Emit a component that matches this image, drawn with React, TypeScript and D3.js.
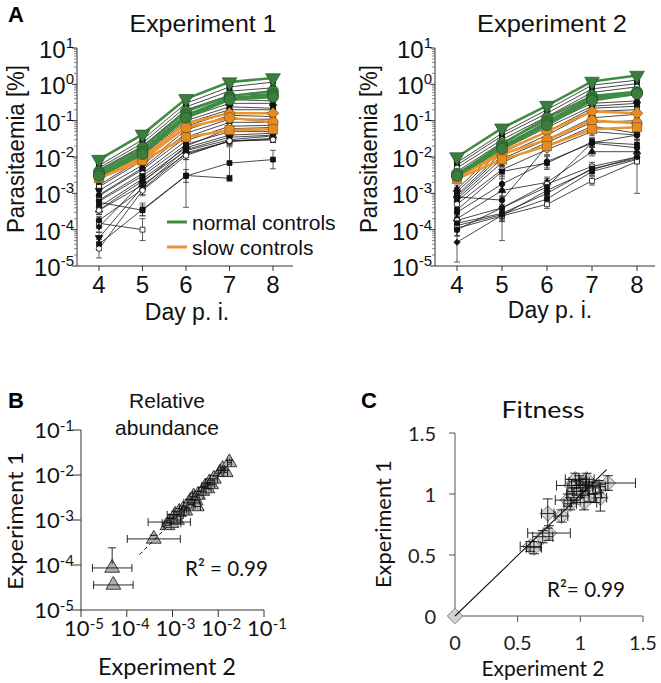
import React from "react";
import * as d3 from "d3";

// ---------------- DATA ----------------
const days = [4, 5, 6, 7, 8];
const yDecades = [-5, -4, -3, -2, -1, 0, 1];

// Experiment 1 – individual lines (parasitaemia %, day 4..8)
const exp1Black: (number | null)[][] = [
  [0.0058, 0.03, 0.3, 0.85, 1.15],
  [0.005, 0.024, 0.24, 0.65, 0.8],
  [0.0045, 0.02, 0.2, 0.5, 0.55],
  [0.0035, 0.016, 0.15, 0.38, 0.35],
  [0.003, 0.013, 0.12, 0.3, 0.3],
  [0.0025, 0.011, 0.1, 0.24, 0.22],
  [0.0017, 0.009, 0.085, 0.2, 0.2],
  [0.0015, 0.008, 0.07, 0.17, 0.16],
  [0.0012, 0.006, 0.055, 0.14, 0.13],
  [0.0009, 0.005, 0.045, 0.11, 0.11],
  [0.00085, 0.0045, 0.035, 0.09, 0.09],
  [0.00065, 0.0035, 0.028, 0.07, 0.075],
  [0.0006, 0.003, 0.022, 0.05, 0.05],
  [0.00042, 0.0025, 0.018, 0.04, 0.045],
  [0.00035, 0.0022, 0.015, 0.03, 0.038],
  [0.00034, 0.0017, 0.012, 0.027, 0.033],
  [0.00057, 0.00034, 0.003, 0.0068, 0.0085],
  [0.00004, 0.00036, 0.0031, 0.0026, null],
  [0.00015, 0.0001, null, null, null],
  [0.00018, 0.0013, 0.013, 0.027, 0.03],
  [0.00012, 0.002, 0.02, 0.06, 0.065],
  [0.00006, 0.0015, 0.016, 0.035, 0.04],
  [0.00003, 0.0012, 0.011, 0.028, 0.03],
];
const exp1BlackErr: number[][] = [
  [1.15, 1.2, 1.2, 1.1, 1.1],
  [1.2, 1.2, 1.15, 1.1, 1.1],
  [1.2, 1.15, 1.2, 1.15, 1.1],
  [1.2, 1.2, 1.2, 1.1, 1.1],
  [1.2, 1.2, 1.2, 1.1, 1.15],
  [1.25, 1.2, 1.2, 1.15, 1.1],
  [1.2, 1.25, 1.2, 1.1, 1.1],
  [1.3, 1.2, 1.2, 1.1, 1.15],
  [1.2, 1.2, 1.25, 1.15, 1.1],
  [1.3, 1.25, 1.2, 1.2, 1.1],
  [1.3, 1.3, 1.3, 1.2, 1.1],
  [1.3, 1.2, 1.3, 1.2, 1.2],
  [1.3, 1.3, 1.3, 1.2, 1.2],
  [1.3, 1.2, 1.3, 1.2, 1.2],
  [1.3, 1.3, 1.3, 1.3, 1.3],
  [1.3, 1.3, 1.4, 1.3, 1.3],
  [1.3, 1.4, 1.5, 2.8, 1.8],
  [1.5, 1.5, 7.5, 1.2, 1],
  [1.4, 2.0, 1, 1, 1],
  [1.3, 1.4, 1.3, 1.2, 1.2],
  [1.4, 1.3, 1.3, 1.2, 1.2],
  [1.4, 1.3, 1.3, 1.2, 1.2],
  [1.8, 1.4, 1.3, 1.2, 1.2],
];
const exp1Green: number[][] = [
  [0.0085, 0.042, 0.4, 1.15, 1.5],
  [0.004, 0.018, 0.18, 0.48, 0.65],
  [0.0035, 0.014, 0.14, 0.42, 0.52],
  [0.003, 0.012, 0.12, 0.38, 0.45],
];
const exp1GreenErr: number[][] = [
  [1.2, 1.2, 1.3, 1.1, 1.1],
  [1.2, 1.2, 1.3, 1.2, 1.1],
  [1.2, 1.2, 1.2, 1.1, 1.1],
  [1.2, 1.2, 1.2, 1.1, 1.1],
];
const exp1Orange: number[][] = [
  [0.003, 0.0095, 0.085, 0.16, 0.16],
  [0.0028, 0.0085, 0.065, 0.12, 0.09],
  [0.0026, 0.008, 0.035, 0.055, 0.058],
];
const exp1OrangeErr: number[][] = [
  [1.2, 1.2, 1.2, 1.15, 1.1],
  [1.2, 1.2, 1.2, 1.15, 1.1],
  [1.2, 1.2, 1.3, 1.15, 1.1],
];

// Experiment 2
const exp2Black: (number | null)[][] = [
  [0.007, 0.045, 0.2, 0.95, 1.3],
  [0.006, 0.038, 0.16, 0.75, 1.05],
  [0.005, 0.03, 0.13, 0.6, 0.85],
  [0.004, 0.025, 0.1, 0.45, 0.5],
  [0.0013, 0.02, 0.08, 0.3, 0.35],
  [0.0011, 0.016, 0.065, 0.25, 0.3],
  [0.0009, 0.013, 0.05, 0.22, 0.25],
  [0.0008, 0.011, 0.04, 0.18, 0.2],
  [0.0007, 0.009, 0.03, 0.12, 0.15],
  [0.0006, 0.007, 0.025, 0.09, 0.1],
  [0.0008, 0.00065, 0.02, 0.07, 0.045],
  [0.0005, 0.0045, 0.016, 0.05, 0.04],
  [0.00035, 0.004, 0.0068, 0.026, 0.022],
  [0.0003, 0.0018, 0.0075, 0.024, 0.018],
  [0.0002, 0.0012, 0.002, 0.014, 0.014],
  [0.00018, 0.0004, 0.0018, 0.0055, 0.01],
  [0.00015, 0.00028, 0.001, 0.0048, 0.009],
  [0.00013, 0.00026, 0.0007, 0.004, 0.0085],
  [0.00011, 0.00024, 0.0005, 0.0022, 0.0075],
  [0.0001, 0.0004, 0.0015, 0.025, 0.04],
  [0.000045, 0.00025, 0.0012, 0.0045, 0.01],
];
const exp2BlackErr: number[][] = [
  [1.2, 1.2, 1.2, 1.1, 1.1],
  [1.2, 1.2, 1.2, 1.1, 1.1],
  [1.2, 1.2, 1.2, 1.1, 1.1],
  [1.2, 1.2, 1.2, 1.15, 1.1],
  [1.3, 1.2, 1.2, 1.15, 1.1],
  [1.3, 1.2, 1.2, 1.15, 1.1],
  [1.3, 1.2, 1.3, 1.15, 1.2],
  [1.3, 1.25, 1.3, 1.2, 1.2],
  [1.3, 1.3, 1.3, 1.2, 1.2],
  [1.3, 1.3, 1.3, 1.2, 1.2],
  [1.3, 1.3, 1.3, 1.2, 1.2],
  [1.3, 1.3, 1.4, 1.3, 1.3],
  [1.4, 1.4, 1.5, 1.3, 1.3],
  [1.4, 1.4, 1.5, 1.3, 1.3],
  [1.4, 1.5, 1.4, 1.3, 1.3],
  [1.5, 8, 1.4, 1.3, 1.3],
  [1.5, 1.4, 1.4, 1.3, 1.3],
  [1.5, 1.4, 1.4, 1.3, 1.3],
  [1.6, 1.4, 1.3, 1.3, 7.5],
  [1.5, 1.5, 1.5, 1.3, 1.3],
  [3.5, 1.5, 1.5, 1.3, 1.3],
];
const exp2Green: number[][] = [
  [0.01, 0.062, 0.26, 1.2, 1.75],
  [0.0032, 0.023, 0.12, 0.48, 0.62],
  [0.0035, 0.019, 0.09, 0.4, 0.58],
  [0.003, 0.017, 0.075, 0.36, 0.55],
];
const exp2GreenErr: number[][] = [
  [1.25, 1.2, 1.3, 1.15, 1.15],
  [1.2, 1.2, 1.2, 1.15, 1.1],
  [1.2, 1.2, 1.2, 1.1, 1.1],
  [1.2, 1.2, 1.2, 1.1, 1.1],
];
const exp2Orange: number[][] = [
  [0.003, 0.014, 0.05, 0.18, 0.16],
  [0.0028, 0.012, 0.03, 0.1, 0.085],
  [0.0025, 0.0085, 0.02, 0.058, 0.066],
];
const exp2OrangeErr: number[][] = [
  [1.2, 1.2, 1.2, 1.15, 1.1],
  [1.2, 1.2, 1.2, 1.15, 1.1],
  [1.2, 1.2, 1.2, 1.15, 1.1],
];

// B – relative abundance (x: Experiment 2, y: Experiment 1)
const relX = [4.8e-5, 5.1e-5, 3.9e-4, 7.8e-4, 8.5e-4, 9.5e-4, 1.05e-3, 1.15e-3, 1.25e-3, 1.4e-3, 1.7e-3, 1.9e-3, 2.3e-3, 2.6e-3, 2.9e-3, 3.2e-3, 3.4e-3, 3.6e-3, 4.5e-3, 5.2e-3, 5.8e-3, 6.4e-3, 7e-3, 8e-3, 1.1e-2, 1.25e-2, 1.45e-2, 1.75e-2];
const relY = [8.6e-5, 3.6e-5, 3.8e-4, 7.6e-4, 9e-4, 8.5e-4, 1.1e-3, 1.3e-3, 1.0e-3, 1.5e-3, 1.7e-3, 1.6e-3, 2.4e-3, 2.2e-3, 3.3e-3, 2.7e-3, 2.0e-3, 3.6e-3, 4.4e-3, 5.5e-3, 5.0e-3, 6.8e-3, 6.2e-3, 8.2e-3, 1.15e-2, 1.35e-2, 1.15e-2, 1.9e-2];
const relXErr = [2.7, 2.7, 3.8, 1.2, 2.9, 1.6, 1.2, 1.5, 1.2, 1.3, 1.2, 1.2, 1.3, 1.2, 1.2, 1.2, 1.2, 1.3, 1.2, 1.2, 1.2, 1.2, 1.2, 1.2, 1.1, 1.1, 1.1, 1.1];
const relYErr = [2.8, 1, 1.2, 1.3, 1.2, 1.3, 1.2, 1.2, 1.3, 1.2, 1.2, 1.2, 1.2, 1.3, 1.2, 1.2, 1.2, 1.2, 1.2, 1.2, 1.2, 1.2, 1.2, 1.2, 1.1, 1.1, 1.1, 1.1];
const relFit = [[1.9e-4, 1.7e-4], [1.8e-2, 1.8e-2]];
const relTicks = [-5, -4, -3, -2, -1];

// C – fitness
const fitX = [0, 0.6, 0.63, 0.7, 0.75, 0.74, 0.85, 0.9, 0.92, 0.95, 0.97, 0.99, 1.0, 1.02, 1.05, 1.07, 1.1, 1.12, 1.15, 1.16, 1.22, 0.93, 1.03, 0.96];
const fitY = [0, 0.57, 0.56, 0.65, 0.68, 0.84, 0.82, 0.95, 0.92, 1.0, 1.05, 1.1, 1.02, 1.08, 1.12, 1.0, 1.05, 1.0, 1.06, 0.97, 1.09, 1.07, 0.93, 1.12];
const fitXErr = [0, 0.08, 0.06, 0.08, 0.17, 0.05, 0.05, 0.1, 0.05, 0.06, 0.07, 0.08, 0.06, 0.05, 0.06, 0.05, 0.06, 0.05, 0.05, 0.05, 0.22, 0.12, 0.1, 0.08];
const fitYErr = [0, 0.04, 0.05, 0.05, 0.06, 0.12, 0.05, 0.05, 0.05, 0.05, 0.06, 0.05, 0.05, 0.05, 0.05, 0.06, 0.05, 0.07, 0.05, 0.11, 0.06, 0.05, 0.06, 0.05];
const fitLine = [[0, 0], [1.21, 1.2]];
const fitTicks = [0, 0.5, 1, 1.5];

// ---------------- STYLE ----------------
const blackMarkers = ["circle", "square", "circleOpen", "diamond", "tri", "square", "circle", "squareOpen", "triDown", "diamond", "circle", "circleOpen", "square", "circle", "tri", "circleOpen", "square", "square", "squareOpen", "circle", "diamond", "triDown", "circleOpen"];
const greenMarkers = ["triDown", "circle", "circle", "circle"];
const orangeMarkers = ["diamond", "circle", "square"];
const GREEN = "#3f8c43";
const GREEN_FILL = "#3a7d3d";
const ORANGE = "#ec9530";
const ORANGE_FILL = "#e48b22";
const ARIAL = "'Liberation Sans', Arial, sans-serif";
const CAL = "Lato, 'Open Sans', sans-serif";

const symMap: Record<string, any> = {
  circle: d3.symbolCircle,
  square: d3.symbolSquare,
  diamond: d3.symbolSquare,
  tri: d3.symbolTriangle,
  triDown: d3.symbolTriangle,
};

function Marker({ shape, x, y, size, fill, stroke, sw }: any) {
  const open = shape.endsWith("Open");
  const base = shape.replace("Open", "");
  const p = d3.symbol().type(symMap[base]).size(base === "diamond" ? size * 0.8 : size)() as string;
  const rot = base === "triDown" ? " rotate(180)" : base === "diamond" ? " rotate(45)" : "";
  return (
    <path
      d={p}
      transform={`translate(${x},${y})${rot}`}
      fill={open ? "#fff" : fill}
      stroke={stroke}
      strokeWidth={sw}
    />
  );
}

function Pow({ x, y, exp, anchor, size, supSize, supDy, family }: any) {
  return (
    <text x={x} y={y} textAnchor={anchor} fontFamily={family} fontSize={size} fill="#111">
      10
      <tspan dy={supDy} fontSize={supSize}>{exp}</tspan>
    </text>
  );
}

function GrowthPanel(props: any) {
  const { x, y, ax0, ax1, black, blackErr, green, greenErr, orange, orangeErr, legend } = props;
  const line = d3
    .line<[number, number | null]>()
    .defined((d) => d[1] != null)
    .x((d) => x(d[0]))
    .y((d) => y(d[1] as number));
  const series = (vals: (number | null)[]) => days.map((d, i) => [d, vals[i]] as [number, number | null]);

  const errBars = (vals: (number | null)[], errs: number[], color: string, cap: number, key: string) =>
    vals.map((v, i) => {
      if (v == null || errs[i] <= 1) return null;
      const cx = x(days[i]);
      const lo = y(v / errs[i]);
      const hi = y(v * errs[i]);
      return (
        <g key={key + i} stroke={color} strokeWidth={0.8}>
          <line x1={cx} x2={cx} y1={lo} y2={hi} />
          <line x1={cx - cap} x2={cx + cap} y1={lo} y2={lo} />
          <line x1={cx - cap} x2={cx + cap} y1={hi} y2={hi} />
        </g>
      );
    });

  const minor: number[] = [];
  for (let k = -5; k < 1; k++) for (let m = 2; m <= 9; m++) minor.push(m * Math.pow(10, k));
  const yTop = y(10);
  const yBot = y(1e-5);

  return (
    <g>
      {/* axes */}
      <line x1={ax0} x2={ax0} y1={yTop} y2={yBot} stroke="#333" strokeWidth={1} />
      <line x1={ax0} x2={ax1} y1={yBot} y2={yBot} stroke="#333" strokeWidth={1} />
      {minor.map((v, i) => (
        <line key={"mn" + i} x1={ax0 - 3} x2={ax0} y1={y(v)} y2={y(v)} stroke="#555" strokeWidth={0.7} />
      ))}
      {yDecades.map((k) => (
        <line key={"mj" + k} x1={ax0 - 5} x2={ax0} y1={y(Math.pow(10, k))} y2={y(Math.pow(10, k))} stroke="#333" strokeWidth={1} />
      ))}
      {yDecades.map((k) => (
        <Pow key={"yl" + k} x={ax0 - 3} y={y(Math.pow(10, k)) + 10} exp={String(k)} anchor="end" size={24} supSize={15} supDy={-10} family={ARIAL} />
      ))}
      {days.map((d) => (
        <g key={"xt" + d}>
          <line x1={x(d)} x2={x(d)} y1={yBot} y2={yBot + 5} stroke="#333" />
          <text x={x(d)} y={yBot + 27} textAnchor="middle" fontFamily={ARIAL} fontSize={24} fill="#111">
            {d}
          </text>
        </g>
      ))}

      {/* black series */}
      {black.map((s: any, i: number) => (
        <path key={"bl" + i} d={line(series(s)) as string} fill="none" stroke="#1a1a1a" strokeWidth={0.8} />
      ))}
      {black.map((s: any, i: number) => errBars(s, blackErr[i], "#333", 3, "be" + i + "_"))}
      {black.map((s: any, i: number) =>
        s.map((v: number | null, j: number) =>
          v == null ? null : (
            <Marker key={"bm" + i + "_" + j} shape={blackMarkers[i % blackMarkers.length]} x={x(days[j])} y={y(v)} size={24} fill="#111" stroke="#111" sw={0.8} />
          )
        )
      )}

      {/* orange */}
      {orange.map((s: any, i: number) => errBars(s, orangeErr[i], "#b9a58c", 4, "oe" + i + "_"))}
      {orange.map((s: any, i: number) => (
        <path key={"ol" + i} d={line(series(s)) as string} fill="none" stroke={ORANGE} strokeWidth={2.6} />
      ))}
      {orange.map((s: any, i: number) =>
        s.map((v: number, j: number) => (
          <Marker key={"om" + i + "_" + j} shape={orangeMarkers[i]} x={x(days[j])} y={y(v)} size={85} fill={ORANGE_FILL} stroke="#7a4a12" sw={0.6} />
        ))
      )}

      {/* green */}
      {green.map((s: any, i: number) => errBars(s, greenErr[i], "#9fb39f", 4, "ge" + i + "_"))}
      {green.map((s: any, i: number) => (
        <path key={"gl" + i} d={line(series(s)) as string} fill="none" stroke={GREEN} strokeWidth={2.6} />
      ))}
      {green.map((s: any, i: number) =>
        s.map((v: number, j: number) => (
          <Marker key={"gm" + i + "_" + j} shape={greenMarkers[i]} x={x(days[j])} y={y(v)} size={95} fill={GREEN_FILL} stroke="#1f4a22" sw={0.6} />
        ))
      )}

      {legend && (
        <g>
          <line x1={167} x2={187} y1={222} y2={222} stroke={GREEN} strokeWidth={3} />
          <text x={192} y={230} fontFamily={ARIAL} fontSize={21} fill="#111">normal controls</text>
          <line x1={167} x2={187} y1={247} y2={247} stroke={ORANGE} strokeWidth={3} />
          <text x={192} y={255} fontFamily={ARIAL} fontSize={21} fill="#111">slow controls</text>
        </g>
      )}
    </g>
  );
}

export default function App() {
  const x1 = d3.scaleLinear().domain([4, 8]).range([99, 273]);
  const x2 = d3.scaleLinear().domain([4, 8]).range([457, 637]);
  const yA = d3.scaleLog().domain([1e-5, 10]).range([266, 48]);

  const xB = d3.scaleLog().domain([1e-5, 1e-1]).range([81, 264]);
  const yB = d3.scaleLog().domain([1e-5, 1e-1]).range([610, 430]);

  const xC = d3.scaleLinear().domain([0, 1.5]).range([455, 643]);
  const yC = d3.scaleLinear().domain([0, 1.5]).range([616, 433]);

  return (
    <svg width={661} height={683} viewBox="0 0 661 683" style={{ display: "block", position: "absolute", left: 0, top: 0, background: "#fff" }}>
      <rect width={661} height={683} fill="#fff" />
      {/* Panel A */}
      <text x={8} y={22} fontFamily={ARIAL} fontWeight="bold" fontSize={22} fill="#000">A</text>
      <text x={203} y={32} textAnchor="middle" fontFamily={ARIAL} fontSize={24} textLength={147} lengthAdjust="spacingAndGlyphs" fill="#111">Experiment 1</text>
      <text x={552} y={32} textAnchor="middle" fontFamily={ARIAL} fontSize={24} textLength={150} lengthAdjust="spacingAndGlyphs" fill="#111">Experiment 2</text>
      <text transform="translate(24,149) rotate(-90)" textAnchor="middle" fontFamily={ARIAL} fontSize={23} textLength={168} lengthAdjust="spacingAndGlyphs" fill="#111">Parasitaemia [%]</text>
      <text transform="translate(377,149) rotate(-90)" textAnchor="middle" fontFamily={ARIAL} fontSize={23} textLength={168} lengthAdjust="spacingAndGlyphs" fill="#111">Parasitaemia [%]</text>
      <text x={187} y={320} textAnchor="middle" fontFamily={ARIAL} fontSize={23} fill="#111">Day p. i.</text>
      <text x={550} y={318} textAnchor="middle" fontFamily={ARIAL} fontSize={23} fill="#111">Day p. i.</text>

      <GrowthPanel x={x1} y={yA} ax0={77} ax1={293} black={exp1Black} blackErr={exp1BlackErr} green={exp1Green} greenErr={exp1GreenErr} orange={exp1Orange} orangeErr={exp1OrangeErr} legend />
      <GrowthPanel x={x2} y={yA} ax0={435} ax1={655} black={exp2Black} blackErr={exp2BlackErr} green={exp2Green} greenErr={exp2GreenErr} orange={exp2Orange} orangeErr={exp2OrangeErr} />

      {/* Panel B */}
      <text x={8} y={408} fontFamily={ARIAL} fontWeight="bold" fontSize={22} fill="#000">B</text>
      <text x={167} y={408} textAnchor="middle" fontFamily={ARIAL} fontSize={21} fill="#111">Relative</text>
      <text x={167} y={435} textAnchor="middle" fontFamily={ARIAL} fontSize={21} fill="#111">abundance</text>
      <line x1={81} x2={81} y1={430} y2={610} stroke="#333" />
      <line x1={81} x2={264} y1={610} y2={610} stroke="#333" />
      {relTicks.map((k) => (
        <g key={"bt" + k}>
          <line x1={72} x2={81} y1={yB(Math.pow(10, k))} y2={yB(Math.pow(10, k))} stroke="#333" />
          <Pow x={74} y={yB(Math.pow(10, k)) + 8} exp={String(k)} anchor="end" size={22} supSize={15} supDy={-7} family={CAL} />
          <line x1={xB(Math.pow(10, k))} x2={xB(Math.pow(10, k))} y1={610} y2={617} stroke="#333" />
          <Pow x={xB(Math.pow(10, k)) + 3} y={636} exp={String(k)} anchor="middle" size={22} supSize={15} supDy={-7} family={CAL} />
        </g>
      ))}
      {relX.map((v, i) => (
        <Marker key={"bm" + i} shape="tri" x={xB(v)} y={yB(relY[i])} size={95} fill="#b0b0b0" stroke="#2a2a2a" sw={0.9} />
      ))}
      {relX.map((v, i) => {
        const cx = xB(v), cy = yB(relY[i]);
        const ex = relXErr[i], ey = relYErr[i];
        return (
          <g key={"be" + i} stroke="#111" strokeWidth={0.9}>
            {ex > 1 && (
              <g>
                <line x1={xB(v / ex)} x2={xB(v * ex)} y1={cy} y2={cy} />
                <line x1={xB(v / ex)} x2={xB(v / ex)} y1={cy - 4} y2={cy + 4} />
                <line x1={xB(v * ex)} x2={xB(v * ex)} y1={cy - 4} y2={cy + 4} />
              </g>
            )}
            {ey > 1 && (
              <g>
                <line x1={cx} x2={cx} y1={yB(relY[i] * ey)} y2={cy - 4} />
                <line x1={cx - 4} x2={cx + 4} y1={yB(relY[i] * ey)} y2={yB(relY[i] * ey)} />
              </g>
            )}
          </g>
        );
      })}
      <line x1={xB(relFit[0][0])} y1={yB(relFit[0][1])} x2={xB(relFit[1][0])} y2={yB(relFit[1][1])} stroke="#111" strokeWidth={1} strokeDasharray="4,3" />
      <text x={185} y={576} fontFamily={CAL} fontSize={22} textLength={83} lengthAdjust="spacingAndGlyphs" fill="#111">R² = 0.99</text>
      <text transform="translate(23,521) rotate(-90)" textAnchor="middle" fontFamily={CAL} fontSize={22} textLength={138} lengthAdjust="spacingAndGlyphs" fill="#111">Experiment 1</text>
      <text x={167} y={675} textAnchor="middle" fontFamily={CAL} fontSize={23} textLength={138} lengthAdjust="spacingAndGlyphs" fill="#111">Experiment 2</text>

      {/* Panel C */}
      <text x={361} y={408} fontFamily={ARIAL} fontWeight="bold" fontSize={22} fill="#000">C</text>
      <text x={543} y={418} textAnchor="middle" fontFamily={CAL} fontSize={23} textLength={83} lengthAdjust="spacingAndGlyphs" fill="#111">Fitness</text>
      <line x1={455} x2={455} y1={433} y2={616} stroke="#555" />
      <line x1={455} x2={643} y1={616} y2={616} stroke="#555" />
      {fitTicks.map((t) => (
        <g key={"ct" + t}>
          <line x1={449} x2={455} y1={yC(t)} y2={yC(t)} stroke="#555" />
          <text x={436} y={yC(t) + 8} textAnchor="end" fontFamily={CAL} fontSize={20} fill="#222">{t}</text>
          <line x1={xC(t)} x2={xC(t)} y1={616} y2={622} stroke="#555" />
          <text x={xC(t)} y={650} textAnchor="middle" fontFamily={CAL} fontSize={20} fill="#222">{t}</text>
        </g>
      ))}
      {fitX.map((v, i) => (
        <Marker key={"cm" + i} shape="diamond" x={xC(v)} y={yC(fitY[i])} size={150} fill="#d3d3d3" stroke="#7a7a7a" sw={0.9} />
      ))}
      <line x1={xC(fitLine[0][0])} y1={yC(fitLine[0][1])} x2={xC(fitLine[1][0])} y2={yC(fitLine[1][1])} stroke="#111" strokeWidth={1.1} />
      {fitX.map((v, i) => {
        const cx = xC(v), cy = yC(fitY[i]);
        const ex = fitXErr[i], ey = fitYErr[i];
        if (ex === 0 && ey === 0) return null;
        return (
          <g key={"ce" + i} stroke="#111" strokeWidth={0.9}>
            <line x1={xC(v - ex)} x2={xC(v + ex)} y1={cy} y2={cy} />
            <line x1={xC(v - ex)} x2={xC(v - ex)} y1={cy - 5} y2={cy + 5} />
            <line x1={xC(v + ex)} x2={xC(v + ex)} y1={cy - 5} y2={cy + 5} />
            <line x1={cx} x2={cx} y1={yC(fitY[i] - ey)} y2={yC(fitY[i] + ey)} />
            <line x1={cx - 5} x2={cx + 5} y1={yC(fitY[i] - ey)} y2={yC(fitY[i] - ey)} />
            <line x1={cx - 5} x2={cx + 5} y1={yC(fitY[i] + ey)} y2={yC(fitY[i] + ey)} />
          </g>
        );
      })}
      <text x={547} y={597} fontFamily={CAL} fontSize={22} textLength={78} lengthAdjust="spacingAndGlyphs" fill="#111">R²= 0.99</text>
      <text transform="translate(391,524) rotate(-90)" textAnchor="middle" fontFamily={CAL} fontSize={22} textLength={128} lengthAdjust="spacingAndGlyphs" fill="#111">Experiment 1</text>
      <text x={543} y={676} textAnchor="middle" fontFamily={CAL} fontSize={22} textLength={123} lengthAdjust="spacingAndGlyphs" fill="#111">Experiment 2</text>
    </svg>
  );
}
